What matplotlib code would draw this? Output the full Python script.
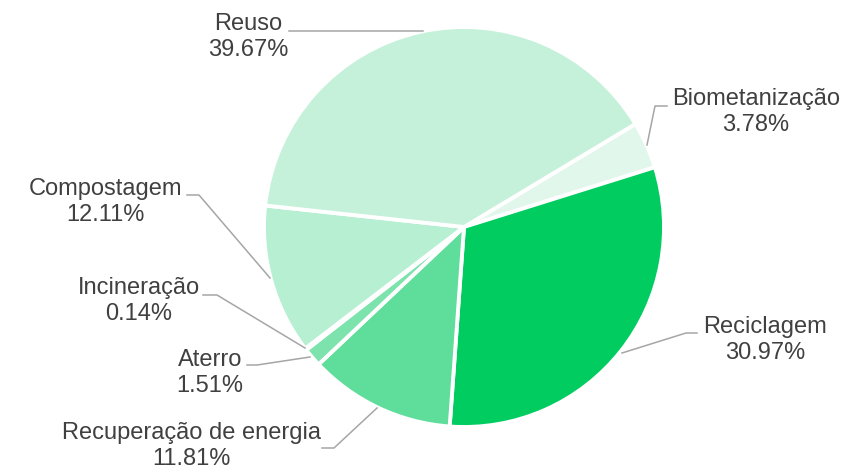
import matplotlib
matplotlib.use("Agg")
import matplotlib.pyplot as plt

plt.rcParams['font.family'] = ['Liberation Sans', 'DejaVu Sans']

# destination shares, clockwise starting from Biometanização
categories = ['Biometanização', 'Reciclagem', 'Recuperação de energia',
              'Aterro', 'Incineração', 'Compostagem', 'Reuso']
shares = [3.78, 30.97, 11.81, 1.51, 0.14, 12.11, 39.67]
colors = ['#e2f7eb', '#00cc60', '#5fdd9b', '#7ce3ad', '#9ae8bf', '#b6efd2', '#c5f1da']

W, H = 846, 469
fy = lambda y: H - y  # pixel rows -> axes y

# label block centres and leader line points (pixel coords from the top-left)
label_pos = {
    'Biometanização': (756, 112),
    'Reciclagem': (765, 340),
    'Recuperação de energia': (191, 446),
    'Aterro': (210, 373),
    'Incineração': (139, 301),
    'Compostagem': (105, 202),
    'Reuso': (248, 37),
}
leaders = {
    'Biometanização': [(667, 106), (655, 106), (647, 145)],
    'Reciclagem': [(697, 333), (686, 333), (622, 353)],
    'Recuperação de energia': [(322, 448), (334, 448), (377, 408)],
    'Aterro': [(247, 365), (257, 365), (310, 357)],
    'Incineração': [(203, 295), (217, 295), (305, 348)],
    'Compostagem': [(187, 195), (199, 195), (270, 278)],
    'Reuso': [(289, 31), (423, 31)],
}

fig = plt.figure(figsize=(W / 100, H / 100), dpi=100)
ax = fig.add_axes([0, 0, 1, 1])

ax.pie(shares, colors=colors, startangle=31, counterclock=False,
       center=(464, fy(227)), radius=200, frame=True,
       wedgeprops=dict(edgecolor='white', linewidth=2.8))
ax.set_xlim(0, W)
ax.set_ylim(0, H)
ax.set_aspect('equal')
ax.axis('off')

for name, val in zip(categories, shares):
    x, y = label_pos[name]
    ax.text(x, fy(y), f'{name}\n{val:.2f}%', ha='center', va='center',
            fontsize=17, color='#404040', linespacing=1.22)
    pts = leaders[name]
    ax.plot([p[0] for p in pts], [fy(p[1]) for p in pts],
            color='#a6a6a6', linewidth=1.1)

fig.savefig('out.png', dpi=100)
